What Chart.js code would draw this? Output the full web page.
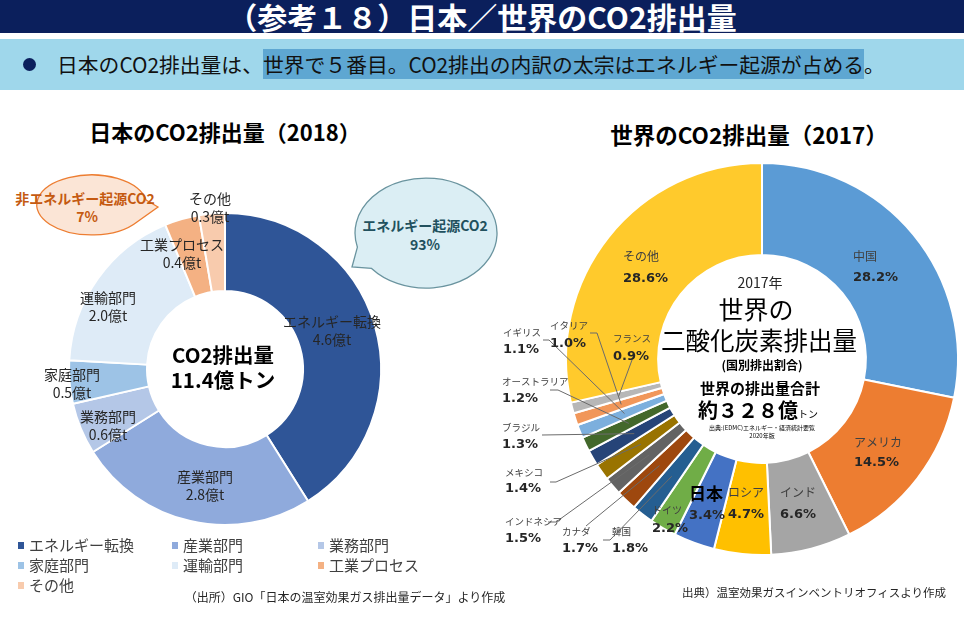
<!DOCTYPE html>
<html><head><meta charset="utf-8">
<script src="https://cdn.jsdelivr.net/npm/chart.js@4.4.1/dist/chart.umd.min.js"></script>
<style>
html,body{margin:0;padding:0}
body{width:964px;height:632px;overflow:hidden;background:#fff;position:relative;font-family:"Noto Sans CJK JP","Noto Sans",sans-serif;color:#262626}
#bar{position:absolute;left:0;top:0;width:964px;height:33px;background:#0b1f5c;color:#fff;font-weight:bold;font-size:30px;text-align:center;line-height:33px}
#band{position:absolute;left:0;top:39px;width:964px;height:51px;background:#9fd7eb}
#band .dot{position:absolute;left:23px;top:19px;width:13px;height:13px;border-radius:50%;background:#0b1f5c}
#band .txt{position:absolute;left:57px;top:11px;font-size:20.8px;line-height:28px;color:#111;white-space:nowrap}
#band .hl{background:#5ea7d2}
.t{position:absolute;white-space:nowrap;transform:translate(-50%,-50%);line-height:1}
canvas{position:absolute;left:0;top:0}
svg{position:absolute;left:0;top:0}
#legend{position:absolute;left:0;top:0}
.lg{position:absolute;font-size:15px;color:#404040;white-space:nowrap;line-height:1}
.lg i{display:inline-block;width:6px;height:7px;margin-right:5px;vertical-align:2px}
</style></head>
<body>
<div id="bar">（参考１８）日本／世界のCO2排出量</div>
<div id="band"><div class="dot"></div><div class="txt">日本のCO2排出量は、<span class="hl">世界で５番目。</span><span class="hl">CO2排出の内訳の太宗はエネルギー起源が占める</span>。</div></div>

<div class="t" style="left:225px;top:131px;font-size:22px;font-weight:bold;color:#000">日本のCO2排出量（2018）</div>
<div class="t" style="left:749px;top:134px;font-size:22.5px;font-weight:bold;color:#000">世界のCO2排出量（2017）</div>

<svg width="964" height="632">
  <path d="M146,200 L158,207 L137,222 A55,30 0 1 1 146,200 Z" fill="#fbe5d6" stroke="#ed7d31" stroke-width="1.3"/>
  <path d="M357.4,247.2 L352,267 L371.6,268.4 A71,55 0 1 0 357.4,247.2 Z" fill="#dbeef4" stroke="#6a949f" stroke-width="1.3"/>
</svg>
<div class="t" style="left:85px;top:198px;font-size:14px;font-weight:bold;color:#c55a11">非エネルギー起源CO2</div>
<div class="t" style="left:87px;top:216px;font-size:14px;font-weight:bold;color:#c55a11">7%</div>
<div class="t" style="left:425px;top:225px;font-size:14px;font-weight:bold;color:#22515e">エネルギー起源CO2</div>
<div class="t" style="left:425px;top:244px;font-size:14px;font-weight:bold;color:#22515e">93%</div>

<canvas id="cJapan" width="964" height="632"></canvas>
<canvas id="cWorld" width="964" height="632"></canvas>

<div class="t" style="left:223px;top:354px;font-size:20.5px;font-weight:bold;color:#000">CO2排出量</div>
<div class="t" style="left:223px;top:379px;font-size:20.5px;font-weight:bold;color:#000" id="jTotal"></div>

<div class="t" style="left:760px;top:282px;font-size:14px;color:#262626">2017年</div>
<div class="t" style="left:756px;top:308px;font-size:25px;color:#000">世界の</div>
<div class="t" style="left:759px;top:340px;font-size:24.5px;color:#000">二酸化炭素排出量</div>
<div class="t" style="left:762px;top:365px;font-size:12px;font-weight:bold;color:#000">(国別排出割合)</div>
<div class="t" style="left:760px;top:387px;font-size:15px;font-weight:bold;color:#000">世界の排出量合計</div>
<div class="t" style="left:758px;top:410px;font-size:20px;font-weight:bold;color:#000">約３２８億<span style="font-size:10px;font-weight:normal">トン</span></div>
<div class="t" style="left:762px;top:428px;font-size:6px;color:#000">出典:(EDMC)エネルギー・経済統計要覧</div>
<div class="t" style="left:762px;top:436px;font-size:6px;color:#000">2020年版</div>

<div id="legend"></div>
<div class="t" style="left:345px;top:597px;font-size:12px;color:#262626">（出所）GIO「日本の温室効果ガス排出量データ」より作成</div>
<div class="t" style="left:814px;top:593px;font-size:11.5px;color:#262626">出典）温室効果ガスインベントリオフィスより作成</div>

<script>
// ---- data ----
const japanCategories = ['エネルギー転換','産業部門','業務部門','家庭部門','運輸部門','工業プロセス','その他'];
const japanValues = [4.6, 2.8, 0.6, 0.5, 2.0, 0.4, 0.3];
const japanTotal = '11.4億トン';
const worldCountries = ['中国','アメリカ','インド','ロシア','日本','ドイツ','韓国','カナダ','インドネシア','メキシコ','ブラジル','オーストラリア','イギリス','イタリア','フランス','その他'];
const worldShares = [28.2, 14.5, 6.6, 4.7, 3.4, 2.2, 1.8, 1.7, 1.5, 1.4, 1.3, 1.2, 1.1, 1.0, 0.9, 28.6];

// ---- styles / layout ----
const japanColors = ['#2f5597','#8faadc','#b4c7e7','#9dc3e6','#deebf7','#f4b183','#f8cbad'];
const worldColors = ['#5b9bd5','#ed7d31','#a5a5a5','#ffc000','#4472c4','#70ad47','#255e91','#9e480e','#636363','#997300','#264478','#43682b','#7cafdd','#f1975a','#b7b7b7','#ffca2c'];
const japanLabelPos = [[332,322],[205,477],[108,417],[72,375],[108,298],[182,245],[210,199]];
const worldLabelPos = [[853,256,278],[854,442,463],[780,492,515],[728,492,515],[689,494,516],[652,510,529],[612,531,549],[562,531,549],[505,521,539],[505,472,489],[502,427,445],[502,381,399],[503,332,350],[550,325,344],[613,338,357],[623,256,279]];
const worldNameFont = ['12px','12px','12px','12px','bold 17px','10px','9.5px','9.5px','9.5px','9.5px','9.5px','9.5px','9.5px','9.5px','9.5px','12px'];
const worldLeaders = [null,null,null,null,null,null,[[603,540],[610,540]],[[586,526],[592,521]],[[548,522],[556,522]],[[550,482],[556,482]],[[542,435]],[[550,390],[558,390]],[[543,340],[549,340]],[[590,333],[597,333]],[[632,360]],null];
const legendCols = [18, 172, 318];
const legendRows = [545, 565, 585];

document.getElementById('jTotal').textContent = japanTotal;

// legend
const lg = document.getElementById('legend');
japanCategories.forEach((c, i) => {
  const d = document.createElement('div');
  d.className = 'lg';
  d.style.left = legendCols[i % 3] + 'px';
  d.style.top = (legendRows[Math.floor(i / 3)] - 8) + 'px';
  d.innerHTML = '<i style="background:' + japanColors[i] + '"></i>' + c;
  lg.appendChild(d);
});

const FONT = '"Noto Sans CJK JP","Noto Sans",sans-serif';

const japanLabels = {
  id: 'japanLabels',
  afterDatasetsDraw(chart) {
    const ctx = chart.ctx;
    ctx.save();
    ctx.textAlign = 'center';
    ctx.textBaseline = 'middle';
    ctx.fillStyle = '#262626';
    ctx.font = '14px ' + FONT;
    japanCategories.forEach((c, i) => {
      const [x, y] = japanLabelPos[i];
      ctx.fillText(c, x, y);
      ctx.fillText(japanValues[i].toFixed(1) + '億t', x, y + 18);
    });
    ctx.restore();
  }
};

const worldLabels = {
  id: 'worldLabels',
  afterDatasetsDraw(chart) {
    const ctx = chart.ctx;
    const arcs = chart.getDatasetMeta(0).data;
    ctx.save();
    ctx.strokeStyle = '#6b6b6b';
    ctx.lineWidth = 1;
    worldLeaders.forEach((pts, i) => {
      if (!pts) return;
      const a = arcs[i];
      const ang = (a.startAngle + a.endAngle) / 2;
      const r = (a.innerRadius + a.outerRadius) / 2 - 2;
      const ax = a.x + Math.cos(ang) * r, ay = a.y + Math.sin(ang) * r;
      ctx.beginPath();
      ctx.moveTo(pts[0][0], pts[0][1]);
      for (let k = 1; k < pts.length; k++) ctx.lineTo(pts[k][0], pts[k][1]);
      ctx.lineTo(ax, ay);
      ctx.stroke();
    });
    ctx.textAlign = 'left';
    ctx.textBaseline = 'middle';
    worldCountries.forEach((c, i) => {
      const [x, y1, y2] = worldLabelPos[i];
      ctx.font = worldNameFont[i] + ' ' + FONT;
      ctx.fillStyle = i === 4 ? '#000' : '#404040';
      ctx.fillText(c, x, y1);
      ctx.font = 'bold 13px "DejaVu Sans",sans-serif';
      ctx.fillStyle = '#262626';
      ctx.fillText(worldShares[i].toFixed(1) + '%', x, y2);
    });
    ctx.restore();
  }
};

new Chart(document.getElementById('cJapan'), {
  type: 'doughnut',
  data: { labels: japanCategories, datasets: [{ data: japanValues, backgroundColor: japanColors, borderColor: '#fff', borderWidth: 2 }] },
  options: {
    responsive: false, animation: false, devicePixelRatio: 1,
    cutout: '50%',
    layout: { padding: { left: 68, top: 212, right: 582, bottom: 106 } },
    plugins: { legend: { display: false }, tooltip: { enabled: false } }
  },
  plugins: [japanLabels]
});

new Chart(document.getElementById('cWorld'), {
  type: 'doughnut',
  data: { labels: worldCountries, datasets: [{ data: worldShares, backgroundColor: worldColors, borderColor: '#fff', borderWidth: 2 }] },
  options: {
    responsive: false, animation: false, devicePixelRatio: 1,
    cutout: '53%',
    layout: { padding: { left: 565, top: 162, right: 5, bottom: 76 } },
    plugins: { legend: { display: false }, tooltip: { enabled: false } }
  },
  plugins: [worldLabels]
});
</script>
</body></html>
